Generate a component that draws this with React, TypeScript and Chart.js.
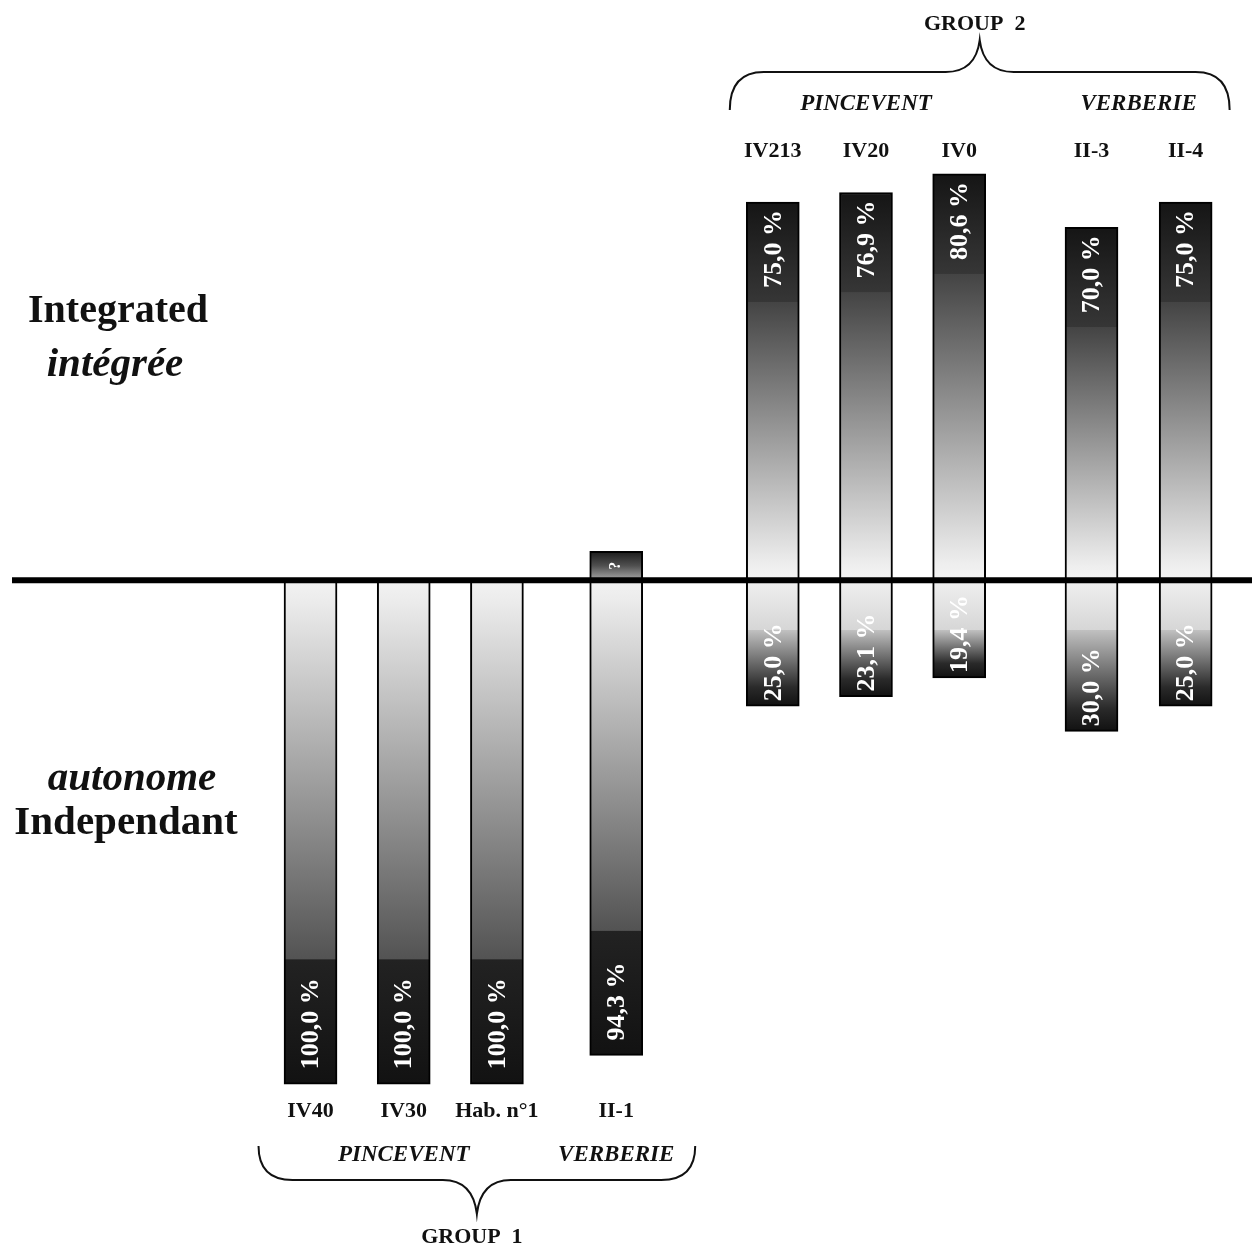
import React, { useEffect, useRef } from 'react';
import { Chart, registerables } from 'chart.js';

Chart.register(...registerables);

// ---------- data ----------
const categories = ['IV40', 'IV30', 'Hab. n°1', 'II-1', 'IV213', 'IV20', 'IV0', 'II-3', 'II-4'];
const sites = ['PINCEVENT', 'PINCEVENT', 'PINCEVENT', 'VERBERIE', 'PINCEVENT', 'PINCEVENT', 'PINCEVENT', 'VERBERIE', 'VERBERIE'];
const groups = ['GROUP 1', 'GROUP 1', 'GROUP 1', 'GROUP 1', 'GROUP 2', 'GROUP 2', 'GROUP 2', 'GROUP 2', 'GROUP 2'];
const integrated = [null, null, null, 5.7, 75.0, 76.9, 80.6, 70.0, 75.0];
const independent = [100.0, 100.0, 100.0, 94.3, 25.0, 23.1, 19.4, 30.0, 25.0];
const integratedLabels = ['', '', '', '?', '75,0 %', '76,9 %', '80,6 %', '70,0 %', '75,0 %'];
const independentLabels = ['100,0 %', '100,0 %', '100,0 %', '94,3 %', '25,0 %', '23,1 %', '19,4 %', '30,0 %', '25,0 %'];
const upperAxisTitles = ['Integrated', 'intégrée'];
const lowerAxisTitles = ['autonome', 'Independant'];

// ---------- layout (not data) ----------
const slotPositions = [0, 1, 2, 3.28, 4.96, 5.96, 6.96, 8.38, 9.39];
const braceInsets: Record<string, [number, number]> = { 'GROUP 1': [52, 79], 'GROUP 2': [43, 44] };
const SERIF = '"Liberation Serif", "Times New Roman", serif';
const W = 1252;
const H = 1250;

function barFill(c: any) {
  const chart = c.chart;
  const ys = chart.scales?.y;
  const raw = c.raw;
  if (!raw || !ys) return '#888';
  const base = ys.getPixelForValue(0);
  const end = ys.getPixelForValue(raw.y);
  const len = Math.abs(end - base);
  if (!isFinite(len) || len < 1) return '#888';
  const g = chart.ctx.createLinearGradient(0, base, 0, end);
  if (len < 60) {
    g.addColorStop(0, '#a8a8a8');
    g.addColorStop(0.5, '#505050');
    g.addColorStop(1, '#1a1a1a');
  } else if (len < 200) {
    const f = Math.min(0.6, 50 / len);
    g.addColorStop(0, '#f0f0f0');
    g.addColorStop(f, '#d6d6d6');
    g.addColorStop(f + 0.001, '#c0c0c0');
    g.addColorStop(0.85, '#2a2a2a');
    g.addColorStop(1, '#111111');
  } else if (raw.y > 0) {
    const f = 1 - 100 / len;
    g.addColorStop(0, '#f4f4f4');
    g.addColorStop(0.04, '#eeeeee');
    g.addColorStop(f, '#444444');
    g.addColorStop(f + 0.001, '#363636');
    g.addColorStop(1, '#151515');
  } else {
    const f = 1 - 125 / len;
    g.addColorStop(0, '#f2f2f2');
    g.addColorStop(0.04, '#ececec');
    g.addColorStop(f, '#535353');
    g.addColorStop(f + 0.001, '#222222');
    g.addColorStop(1, '#121212');
  }
  return g;
}

function drawBrace(ctx: CanvasRenderingContext2D, L: number, R: number, endY: number, midY: number, tipY: number) {
  const tip = (L + R) / 2;
  const r = 34;
  ctx.beginPath();
  ctx.moveTo(L, endY);
  ctx.quadraticCurveTo(L, midY, L + r, midY);
  ctx.lineTo(tip - r, midY);
  ctx.quadraticCurveTo(tip - 4, midY, tip, tipY);
  ctx.quadraticCurveTo(tip + 4, midY, tip + r, midY);
  ctx.lineTo(R - r, midY);
  ctx.quadraticCurveTo(R, midY, R, endY);
  ctx.stroke();
}

const annotatePlugin = {
  id: 'annotate',
  afterDatasetsDraw(chart: any) {
    const ctx: CanvasRenderingContext2D = chart.ctx;
    const xs = chart.scales.x;
    const ys = chart.scales.y;
    const zero = ys.getPixelForValue(0);

    ctx.save();
    // baseline
    ctx.strokeStyle = '#000';
    ctx.lineWidth = 6;
    ctx.beginPath();
    ctx.moveTo(12, zero);
    ctx.lineTo(W, zero);
    ctx.stroke();

    // bar value labels
    ctx.fillStyle = '#fff';
    chart.data.datasets.forEach((ds: any, di: number) => {
      const meta = chart.getDatasetMeta(di);
      meta.data.forEach((el: any, j: number) => {
        const raw = ds.data[j];
        if (!raw || !raw.label) return;
        const up = raw.y > 0;
        const len = Math.abs(el.y - el.base);
        ctx.save();
        if (raw.label === '?') {
          ctx.font = `bold 16px ${SERIF}`;
          ctx.textAlign = 'center';
          ctx.textBaseline = 'middle';
          ctx.translate(el.x, (el.y + el.base) / 2);
          ctx.rotate(-Math.PI / 2);
          ctx.fillText('?', 0, 0);
        } else {
          ctx.font = `bold 26px ${SERIF}`;
          ctx.textBaseline = 'middle';
          if (up) {
            ctx.translate(el.x + 1, el.y + 8);
            ctx.rotate(-Math.PI / 2);
            ctx.textAlign = 'right';
          } else {
            ctx.translate(el.x + 1, el.y - (len > 200 ? 15 : 5));
            ctx.rotate(-Math.PI / 2);
            ctx.textAlign = 'left';
          }
          ctx.fillText(raw.label, 0, 0);
        }
        ctx.restore();
      });
    });

    // category, site, group labels
    ctx.fillStyle = '#111';
    ctx.strokeStyle = '#111';
    ctx.textAlign = 'center';
    ctx.textBaseline = 'alphabetic';
    const groupNames = Array.from(new Set(groups));
    groupNames.forEach((gName) => {
      const idx = categories.map((_, i) => i).filter((i) => groups[i] === gName);
      const bottom = idx.filter((i) => independent[i] > (integrated[i] ?? 0)).length > idx.length / 2;
      const px = idx.map((i) => xs.getPixelForValue(slotPositions[i]));
      // categories
      ctx.font = `bold 22px ${SERIF}`;
      idx.forEach((i, k) => {
        ctx.fillText(categories[i], px[k], bottom ? 1117 : 157);
      });
      // sites
      ctx.font = `italic bold 23px ${SERIF}`;
      const siteNames = Array.from(new Set(idx.map((i) => sites[i])));
      siteNames.forEach((s) => {
        const sp = idx.map((i, k) => (sites[i] === s ? px[k] : null)).filter((v) => v !== null) as number[];
        const cx = sp.reduce((a, b) => a + b, 0) / sp.length;
        ctx.fillText(s, cx, bottom ? 1161 : 110);
      });
      // brace
      const [pl, pr] = braceInsets[gName];
      const L = px[0] - pl;
      const R = px[px.length - 1] + pr;
      ctx.lineWidth = 2;
      if (bottom) drawBrace(ctx, L, R, 1146, 1180, 1214);
      else drawBrace(ctx, L, R, 110, 72, 40);
      ctx.font = `bold 22px ${SERIF}`;
      const label = gName.replace(' ', '\u2002');
      ctx.fillText(label, (L + R) / 2 - 5, bottom ? 1243 : 30);
    });

    // axis titles
    ctx.font = `bold 40px ${SERIF}`;
    ctx.fillText(upperAxisTitles[0], 118, 322);
    ctx.font = `italic bold 41px ${SERIF}`;
    ctx.fillText(upperAxisTitles[1], 115, 376);
    ctx.font = `italic bold 41px ${SERIF}`;
    ctx.fillText(lowerAxisTitles[0], 132, 790);
    ctx.font = `bold 41px ${SERIF}`;
    ctx.fillText(lowerAxisTitles[1], 126, 834);
    ctx.restore();
  },
};

export default function App() {
  const ref = useRef<HTMLCanvasElement>(null);
  useEffect(() => {
    document.body.style.margin = '0';
    const canvas = ref.current;
    if (!canvas) return;
    const integratedPoints = categories
      .map((_, i) => (integrated[i] == null ? null : { x: slotPositions[i], y: integrated[i] as number, label: integratedLabels[i] }))
      .filter(Boolean);
    const independentPoints = categories.map((_, i) => ({ x: slotPositions[i], y: -independent[i], label: independentLabels[i] }));
    const chart = new Chart(canvas, {
      type: 'bar',
      data: {
        datasets: [
          {
            label: 'Integrated / intégrée',
            data: integratedPoints as any,
            backgroundColor: barFill as any,
            borderColor: '#000',
            borderWidth: 2,
            borderSkipped: false,
            barThickness: 53,
            grouped: false,
          } as any,
          {
            label: 'Independant / autonome',
            data: independentPoints as any,
            backgroundColor: barFill as any,
            borderColor: '#000',
            borderWidth: 2,
            borderSkipped: false,
            barThickness: 53,
            grouped: false,
          } as any,
        ],
      },
      options: {
        animation: false,
        responsive: false,
        maintainAspectRatio: false,
        layout: { padding: 0 },
        plugins: { legend: { display: false }, tooltip: { enabled: false } },
        scales: {
          x: { type: 'linear', display: false, offset: false, min: -3.332, max: 10.102 },
          y: { type: 'linear', display: false, min: -132.9, max: 115.1 },
        },
      },
      plugins: [annotatePlugin],
    });
    return () => chart.destroy();
  }, []);
  return <canvas ref={ref} width={W} height={H} style={{ display: 'block' }} />;
}
